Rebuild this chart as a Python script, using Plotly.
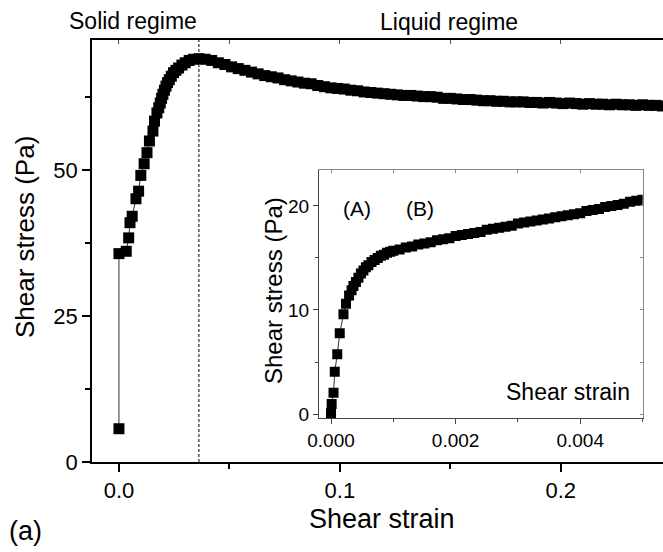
import plotly.graph_objects as go

# ---------------- data ----------------
main_strain = [0.0, 0.0, 0.0033, 0.0044, 0.0050, 0.0060, 0.0077, 0.0089, 0.0099, 0.0114,
               0.0127, 0.0138, 0.0154, 0.0161, 0.0172, 0.0180, 0.0187, 0.0193, 0.0199, 0.0206,
               0.0213, 0.0220, 0.0228, 0.0237, 0.0247, 0.0258, 0.0270, 0.0285, 0.0300, 0.0318,
               0.0338, 0.0363, 0.039, 0.042, 0.045, 0.048, 0.051, 0.054, 0.057, 0.060,
               0.063, 0.066, 0.069, 0.072, 0.075, 0.078, 0.081, 0.084, 0.087, 0.090,
               0.093, 0.096, 0.099, 0.102, 0.105, 0.108, 0.111, 0.114, 0.117, 0.120,
               0.123, 0.126, 0.129, 0.132, 0.135, 0.138, 0.141, 0.144, 0.147, 0.150,
               0.153, 0.156, 0.159, 0.162, 0.165, 0.168, 0.171, 0.174, 0.177, 0.180,
               0.183, 0.186, 0.189, 0.192, 0.195, 0.198, 0.201, 0.204, 0.207, 0.210,
               0.213, 0.216, 0.219, 0.222, 0.225, 0.228, 0.231, 0.234, 0.237, 0.240,
               0.243, 0.246, 0.249]
main_stress = [5.7, 35.7, 36.1, 38.4, 41.0, 42.1, 45.1, 46.4, 49.1, 51.1,
               53.0, 55.0, 56.7, 58.4, 59.8, 60.7, 61.5, 62.3, 63.0, 63.7,
               64.4, 65.0, 65.5, 66.1, 66.7, 67.1, 67.5, 68.0, 68.4, 68.8,
               69.0, 69.1, 69.0, 68.8, 68.4, 68.1, 67.7, 67.4, 67.1, 66.8,
               66.5, 66.2, 66.0, 65.8, 65.5, 65.3, 65.1, 64.9, 64.8, 64.5,
               64.3, 64.1, 64.0, 63.9, 63.7, 63.6, 63.4, 63.3, 63.2, 63.1,
               63.0, 62.9, 62.8, 62.8, 62.7, 62.6, 62.6, 62.5, 62.3, 62.3,
               62.2, 62.1, 62.1, 62.0, 61.9, 61.9, 61.8, 61.8, 61.7, 61.7,
               61.7, 61.6, 61.6, 61.5, 61.6, 61.5, 61.4, 61.5, 61.4, 61.3,
               61.4, 61.3, 61.3, 61.2, 61.3, 61.2, 61.2, 61.1, 61.2, 61.1,
               61.1, 61.0, 61.1]

inset_strain = [0.0, 0.00001, 0.00004, 0.00006, 0.00010, 0.00014, 0.00020, 0.00024, 0.00029,
                0.00033, 0.00036, 0.00040, 0.00044, 0.00048, 0.00052, 0.00056, 0.00060, 0.00065,
                0.00070, 0.00075, 0.00080, 0.00085, 0.00090, 0.00095, 0.00100,
                0.0011, 0.0012, 0.0013, 0.0014, 0.0015, 0.0016, 0.0017, 0.0018, 0.0019, 0.0020,
                0.0021, 0.0022, 0.0023, 0.0024, 0.0025, 0.0026, 0.0027, 0.0028, 0.0029, 0.0030,
                0.0031, 0.0032, 0.0033, 0.0034, 0.0035, 0.0036, 0.0037, 0.0038, 0.0039, 0.0040,
                0.0041, 0.0042, 0.0043, 0.0044, 0.0045, 0.0046, 0.0047, 0.0048, 0.0049, 0.0050]
inset_stress = [0.07, 0.96, 2.05, 4.07, 5.74, 7.76, 9.59, 10.6, 11.4,
                11.9, 12.3, 12.7, 13.1, 13.5, 13.8, 14.1, 14.3, 14.6,
                14.8, 15.0, 15.2, 15.3, 15.5, 15.6, 15.7,
                15.8, 16.0, 16.1, 16.3, 16.4, 16.5, 16.7, 16.8, 16.9, 17.1,
                17.2, 17.3, 17.4, 17.5, 17.7, 17.8, 17.9, 18.0, 18.1, 18.3,
                18.4, 18.5, 18.6, 18.7, 18.8, 18.9, 19.0, 19.1, 19.2, 19.3,
                19.5, 19.6, 19.7, 19.9, 20.0, 20.1, 20.2, 20.4, 20.5, 20.6]

peak_strain = 0.0362        # solid / liquid boundary
inset_boundary = 0.00086    # (A) / (B) boundary

main_xticks = [0.0, 0.1, 0.2]
main_xticklabels = ["0.0", "0.1", "0.2"]
main_yticks = [0, 25, 50]
inset_xticks = [0.0, 0.002, 0.004]
inset_xticklabels = ["0.000", "0.002", "0.004"]
inset_yticks = [0, 10, 20]

FONT = "Liberation Sans, Arial, sans-serif"
W, H = 663, 552
ML, MR, MT, MB = 92, 0, 40, 90
PW, PH = W - ML - MR, H - MT - MB


def px(xp):
    return (xp - ML) / PW


def py(yp):
    return (H - MB - yp) / PH


fig = go.Figure()

fig.add_trace(go.Scatter(
    x=main_strain, y=main_stress, mode="lines+markers",
    line=dict(color="#333333", width=1),
    marker=dict(symbol="square", size=11, color="black", line=dict(width=0)),
    xaxis="x", yaxis="y", showlegend=False, cliponaxis=True))

fig.add_trace(go.Scatter(
    x=inset_strain, y=inset_stress, mode="lines+markers",
    line=dict(color="#333333", width=1),
    marker=dict(symbol="square", size=10, color="black", line=dict(width=0)),
    xaxis="x2", yaxis="y2", showlegend=False, cliponaxis=True))

# empty traces to activate mirror-tick axes
fig.add_trace(go.Scatter(x=[], y=[], xaxis="x3", yaxis="y3", showlegend=False))
fig.add_trace(go.Scatter(x=[], y=[], xaxis="x4", yaxis="y", showlegend=False))

main_xr = [-0.0122, 0.2463]
main_yr = [0, 72.3]
inset_xr = [-0.000193, 0.005003]
inset_yr = [-0.41, 23.5]
ins_dom_x = [px(319), px(642.7)]
ins_dom_y = [py(418.3), py(169.5)]

fig.update_layout(
    width=W, height=H,
    margin=dict(l=ML, r=MR, t=MT, b=MB),
    paper_bgcolor="white", plot_bgcolor="white",
    font=dict(family=FONT, color="black"),
    xaxis=dict(domain=[0, 1], range=main_xr, anchor="y",
               tickvals=main_xticks, ticktext=main_xticklabels,
               ticks="outside", ticklen=8, tickwidth=1.5, tickcolor="black",
               minor=dict(ticks="outside", ticklen=5, tickwidth=1.5, tickcolor="black", dtick=0.05, tick0=0),
               showline=True, linecolor="black", linewidth=1.5,
               showgrid=False, zeroline=False,
               tickfont=dict(size=22, family=FONT)),
    yaxis=dict(domain=[0, 1], range=main_yr, anchor="x",
               tickvals=main_yticks,
               ticks="outside", ticklen=8, tickwidth=1.5, tickcolor="black",
               minor=dict(ticks="outside", ticklen=5, tickwidth=1.5, tickcolor="black", dtick=12.5, tick0=0),
               showline=True, linecolor="black", linewidth=1.5,
               showgrid=False, zeroline=False,
               tickfont=dict(size=22, family=FONT)),
    xaxis4=dict(overlaying="x", anchor="y", side="top", range=main_xr,
                dtick=0.05, tick0=0, ticks="inside", ticklen=4, tickwidth=1, tickcolor="#555",
                showticklabels=False, showline=True, linecolor="black", linewidth=1.5,
                showgrid=False, zeroline=False),
    xaxis2=dict(domain=ins_dom_x, range=inset_xr, anchor="y2",
                tickvals=inset_xticks, ticktext=inset_xticklabels,
                ticks="outside", ticklen=5, tickwidth=1, tickcolor="#444",
                minor=dict(ticks="outside", ticklen=3, tickwidth=1, tickcolor="#444", dtick=0.001, tick0=0),
                showline=True, linecolor="#444", linewidth=1.2,
                showgrid=False, zeroline=False,
                tickfont=dict(size=19, family=FONT)),
    yaxis2=dict(domain=ins_dom_y, range=inset_yr, anchor="x2",
                tickvals=inset_yticks,
                ticks="outside", ticklen=5, tickwidth=1, tickcolor="#444",
                minor=dict(ticks="outside", ticklen=3, tickwidth=1, tickcolor="#444", dtick=5, tick0=0),
                showline=True, linecolor="#444", linewidth=1.2,
                showgrid=False, zeroline=False,
                tickfont=dict(size=19, family=FONT)),
    xaxis3=dict(overlaying="x2", anchor="y3", side="top", range=inset_xr,
                dtick=0.001, tick0=0, ticks="inside", ticklen=3, tickwidth=1, tickcolor="#888",
                showticklabels=False, showline=True, linecolor="#888", linewidth=1,
                showgrid=False, zeroline=False),
    yaxis3=dict(overlaying="y2", anchor="x3", side="right", range=inset_yr,
                dtick=5, tick0=0, ticks="inside", ticklen=3, tickwidth=1, tickcolor="#888",
                showticklabels=False, showline=True, linecolor="#888", linewidth=1,
                showgrid=False, zeroline=False),
)

fig.add_shape(type="line", xref="x", yref="y domain", x0=peak_strain, x1=peak_strain, y0=0, y1=1,
              line=dict(color="black", width=1, dash="3px,2px"), layer="below")
fig.add_shape(type="line", xref="x2", yref="y2 domain", x0=inset_boundary, x1=inset_boundary, y0=0, y1=1,
              line=dict(color="#999999", width=1, dash="1px,1px"), layer="below")

ann = [
    dict(text="Solid regime", x=px(133), y=py(21), size=23),
    dict(text="Liquid regime", x=px(449), y=py(22), size=23),
    dict(text="Shear strain", x=px(382), y=py(519), size=27),
    dict(text="(a)", x=px(25), y=py(531), size=27),
    dict(text="(A)", x=px(357), y=py(208), size=21),
    dict(text="(B)", x=px(420), y=py(208), size=21),
    dict(text="Shear strain", x=px(568), y=py(392), size=23),
]
for a in ann:
    fig.add_annotation(text=a["text"], x=a["x"], y=a["y"], xref="paper", yref="paper",
                       xanchor="center", yanchor="middle", showarrow=False,
                       font=dict(size=a["size"], family=FONT, color="black"))

fig.add_annotation(text="Shear stress (Pa)", x=px(25), y=py(237), xref="paper", yref="paper",
                   xanchor="center", yanchor="middle", showarrow=False, textangle=-90,
                   font=dict(size=26, family=FONT, color="black"))
fig.add_annotation(text="Shear stress (Pa)", x=px(273), y=py(291), xref="paper", yref="paper",
                   xanchor="center", yanchor="middle", showarrow=False, textangle=-90,
                   font=dict(size=24, family=FONT, color="black"))

fig.write_html("out.html",
               config={"displayModeBar": False},
               post_script="document.body.style.margin='0';document.body.style.padding='0';"
                           "document.documentElement.style.margin='0';")
